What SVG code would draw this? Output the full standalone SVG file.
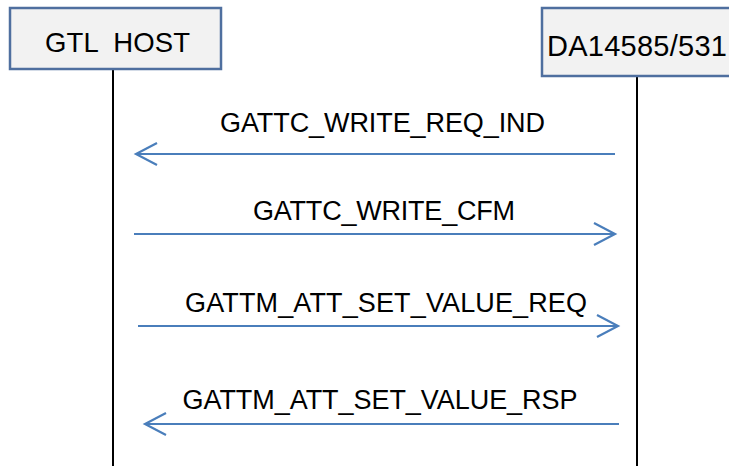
<svg xmlns="http://www.w3.org/2000/svg" width="729" height="466" viewBox="0 0 729 466">
  <style>
    .box { fill: #f2f2f2; stroke: #4f6f9f; stroke-width: 2.5; }
    .life { stroke: #000; stroke-width: 2; fill: none; }
    .msg { stroke: #4a7ebb; stroke-width: 2.2; fill: none; }
    .lbl { font-family: "Liberation Sans", Arial, sans-serif; font-size: 27px; fill: #000; text-anchor: middle; }
    .nlbl { font-family: "Liberation Sans", Arial, sans-serif; font-size: 27.5px; fill: #000; }
  </style>
  <defs>
    <marker id="head" markerUnits="userSpaceOnUse" markerWidth="30" markerHeight="30" refX="22" refY="12" orient="auto">
      <path d="M1,1 L22,12 L1,23" fill="none" stroke="#4a7ebb" stroke-width="2.2"/>
    </marker>
  </defs>
  <rect width="729" height="466" fill="#fff"/>
  <g id="lifelines">
    <line class="life" x1="113" y1="69" x2="113" y2="466"/>
    <line class="life" x1="637" y1="76" x2="637" y2="466"/>
  </g>
  <g id="gtl-host">
    <rect class="box" x="10" y="8" width="211" height="61"/>
    <text class="nlbl" x="45" y="52" xml:space="preserve" textLength="145">GTL  HOST</text>
  </g>
  <g id="da14585">
    <rect class="box" x="542" y="8" width="200" height="68"/>
    <text class="nlbl" x="547" y="56" style="font-size:29px" textLength="180">DA14585/531</text>
  </g>
  <g id="connectors">
    <line class="msg" x1="615" y1="154" x2="136" y2="154" marker-end="url(#head)"/>
    <line class="msg" x1="134" y1="234" x2="615" y2="234" marker-end="url(#head)"/>
    <line class="msg" x1="138" y1="326" x2="618" y2="326" marker-end="url(#head)"/>
    <line class="msg" x1="619" y1="424" x2="145" y2="424" marker-end="url(#head)"/>
  </g>
  <g id="labels">
    <text class="lbl" x="382.5" y="132" textLength="325">GATTC_WRITE_REQ_IND</text>
    <text class="lbl" x="384" y="220" textLength="262">GATTC_WRITE_CFM</text>
    <text class="lbl" x="386" y="312" textLength="402">GATTM_ATT_SET_VALUE_REQ</text>
    <text class="lbl" x="380" y="409" textLength="395">GATTM_ATT_SET_VALUE_RSP</text>
  </g>
</svg>
